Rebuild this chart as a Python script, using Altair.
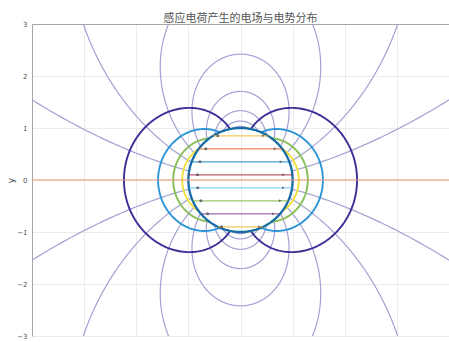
import numpy as np
import pandas as pd
import altair as alt

TITLE = "感应电荷产生的电场与电势分布"
X_DOMAIN = [-4, 4]
Y_DOMAIN = [-3, 3]
X_TICKS = [-4, -3, -2, -1, 0, 1, 2, 3, 4]
Y_TICKS = [-3, -2, -1, 0, 1, 2, 3]

# sphere radius
R_SPHERE = 1.0
# equipotential levels |x/r^3| of induced dipole potential
LEVELS = [0.2, 0.4, 0.6, 0.8]
LEVEL_NAMES = ["p02", "p04", "p06", "p08"]
LEVEL_COLORS = ["#3b2f97", "#2e95d8", "#88bf57", "#f0e03c"]
# field lines of induced charge leave sphere at these angles (deg from +x axis)
START_ANGLES = [10, 20, 30, 40, 50, 60, 70, 80]
# interior (uniform) field lines
INNER_Y = [-0.9, -0.65, -0.4, -0.15, 0.1, 0.35, 0.6, 0.85]
INNER_COLORS = ["#EDB120", "#7E2F8E", "#77AC30", "#4DBEEE", "#A2142F", "#0072BD", "#D95319", "#EDB120"]
ARROW_FRAC = 0.83

# ---------- geometry built from the values above ----------
rows = []
for c, name in zip(LEVELS, LEVEL_NAMES):
    tmax = np.arccos(c)
    th = np.linspace(-tmax, tmax, 240)
    r = np.sqrt(np.cos(th) / c)
    for s in (1, -1):
        for i, (rr, t) in enumerate(zip(r, th)):
            rows.append(dict(x=s * rr * np.cos(t), y=rr * np.sin(t), g=f"{name}_{s}", lev=name, i=i))
equi = pd.DataFrame(rows)

rows = []
for a in START_ANGLES:
    t0 = np.radians(a)
    k = R_SPHERE / np.sin(t0) ** 2
    th = np.linspace(t0, np.pi / 2, 1500)
    r = k * np.sin(th) ** 2
    xs, ys = r * np.cos(th), r * np.sin(th)
    out = np.where((np.abs(xs) > 4.3) | (np.abs(ys) > 3.3))[0]
    n = out[0] + 1 if len(out) else len(th)
    idx = np.unique(np.concatenate([np.arange(0, n, 4), [n - 1]]))
    for sx in (1, -1):
        for sy in (1, -1):
            for j, m in enumerate(idx):
                rows.append(dict(x=sx * xs[m], y=sy * ys[m], g=f"{a}_{sx}_{sy}", i=j))
field = pd.DataFrame(rows)

th = np.linspace(0, 2 * np.pi, 361)
circle = pd.DataFrame(dict(x=R_SPHERE * np.cos(th), y=R_SPHERE * np.sin(th), i=np.arange(361)))

axis_line = pd.DataFrame(dict(x=X_DOMAIN, y=[0, 0], i=[0, 1]))

rows = []
mrows = []
for k_, (yv, col) in enumerate(zip(INNER_Y, INNER_COLORS)):
    h = np.sqrt(R_SPHERE ** 2 - yv ** 2)
    rows.append(dict(x=-h, y=yv, g=f"L{k_}", c=col, i=0))
    rows.append(dict(x=h, y=yv, g=f"L{k_}", c=col, i=1))
    mrows.append(dict(x=-ARROW_FRAC * h, y=yv, side="L"))
    mrows.append(dict(x=ARROW_FRAC * h, y=yv, side="R"))
inner = pd.DataFrame(rows)
marks = pd.DataFrame(mrows)

xs = alt.Scale(domain=X_DOMAIN, nice=False, zero=False)
ys = alt.Scale(domain=Y_DOMAIN, nice=False, zero=False)

x_axis = alt.Axis(values=X_TICKS, title=None, grid=True, gridColor="#ebebeb", ticks=False,
                  labelFontSize=7, labelColor="#666", labelPadding=2, labelBaseline="top",
                  domainColor="#a6a6a6", labelFont="DejaVu Sans")
y_axis = alt.Axis(values=Y_TICKS, title="y", grid=True, gridColor="#ebebeb", ticks=False,
                  labelFontSize=7, labelColor="#555", labelPadding=5, domainColor="#a6a6a6",
                  titleFontSize=9, titleFontWeight="normal", titleColor="#444", titleX=-22, titleY=156,
                  titleAngle=270, titleAlign="center", titleBaseline="middle", labelFont="DejaVu Sans",
                  titleFont="DejaVu Sans")
top_axis = alt.Axis(orient="top", title=None, labels=False, ticks=False, grid=False, domainColor="#a6a6a6")

field_layer = alt.Chart(field).mark_line(color="#a2a2d4", strokeWidth=1.2, clip=True).encode(
    x=alt.X("x:Q", scale=xs, axis=x_axis),
    y=alt.Y("y:Q", scale=ys, axis=y_axis),
    detail="g:N", order="i:Q")

equi_layer = alt.Chart(equi).mark_line(strokeWidth=1.9, clip=True).encode(
    x=alt.X("x:Q", scale=xs, axis=top_axis), y=alt.Y("y:Q", scale=ys),
    color=alt.Color("lev:N", scale=alt.Scale(domain=LEVEL_NAMES, range=LEVEL_COLORS), legend=None),
    detail="g:N", order="i:Q")

circle_layer = alt.Chart(circle).mark_line(color="#176ca6", strokeWidth=2.3, clip=True).encode(
    x=alt.X("x:Q", scale=xs), y=alt.Y("y:Q", scale=ys), order="i:Q")

axis_layer = alt.Chart(axis_line).mark_line(color="#eb9670", strokeWidth=1.2, clip=True).encode(
    x=alt.X("x:Q", scale=xs), y=alt.Y("y:Q", scale=ys), order="i:Q")

inner_layer = alt.Chart(inner).mark_line(strokeWidth=1.2, opacity=0.7, clip=True).encode(
    x=alt.X("x:Q", scale=xs), y=alt.Y("y:Q", scale=ys),
    color=alt.Color("c:N", scale=None), detail="g:N", order="i:Q")

mark_layer = alt.Chart(marks).mark_point(filled=True, size=9, color="#555555", opacity=0.8).encode(
    x=alt.X("x:Q", scale=xs), y=alt.Y("y:Q", scale=ys),
    shape=alt.Shape("side:N", scale=alt.Scale(domain=["L", "R"], range=["circle", "triangle-right"]), legend=None))

chart = alt.layer(field_layer, equi_layer, circle_layer, axis_layer, inner_layer, mark_layer).properties(
    width=417, height=312,
    title=alt.TitleParams(TITLE, fontSize=11, font="Noto Sans CJK SC", fontWeight="normal",
                          color="#555", offset=0, dy=4, anchor="middle"),
    autosize=alt.AutoSizeParams(type="none"),
    padding={"left": 32, "top": 24, "right": 0, "bottom": 6},
    background="white",
).configure_view(strokeWidth=0)

chart.save("out.html", embed_options={"renderer": "svg", "actions": False})
